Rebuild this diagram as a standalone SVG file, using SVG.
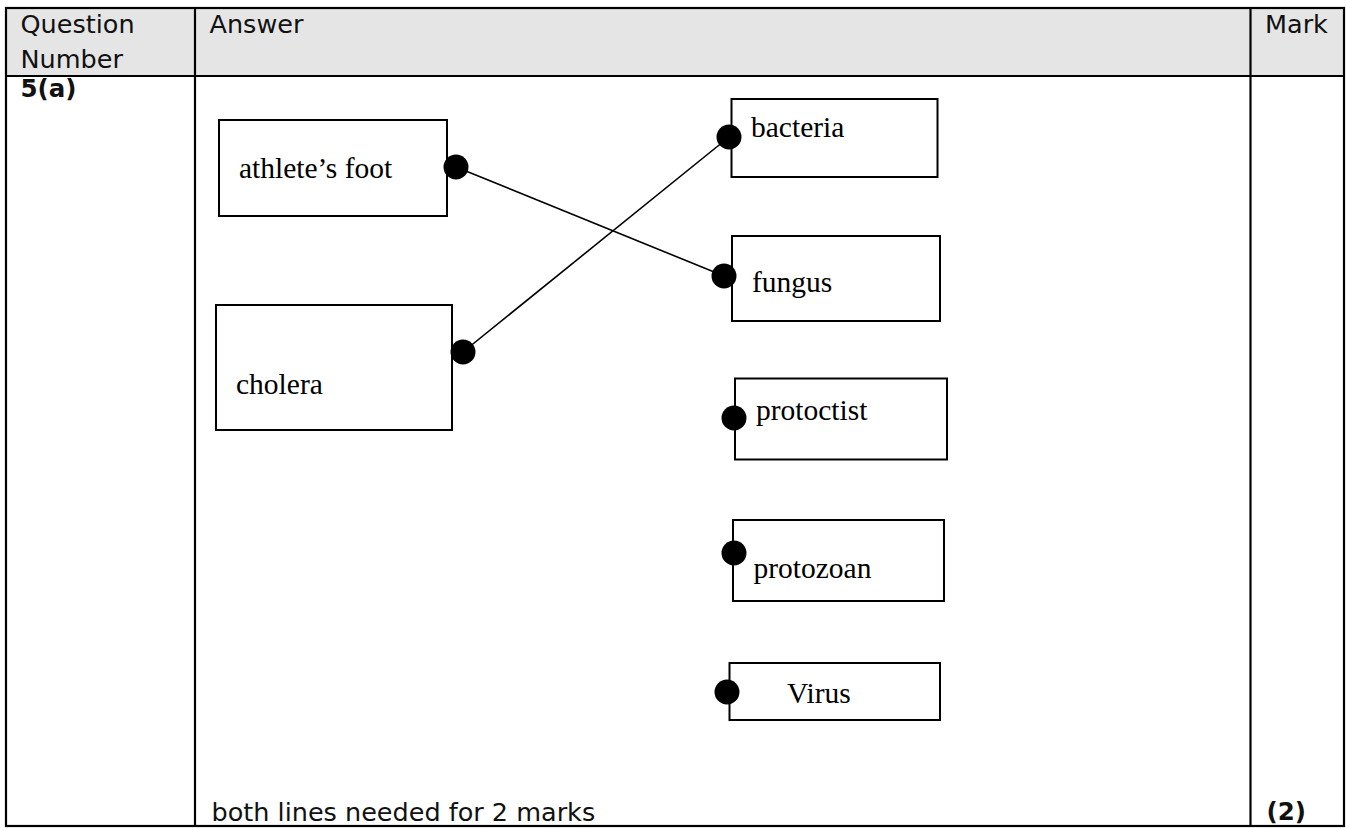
<svg xmlns="http://www.w3.org/2000/svg" width="1346" height="828" viewBox="0 0 1346 828">
<style>
.grid{stroke:#000;stroke-width:2.2;fill:none}
.hdr{fill:#e5e5e5}
.sans{font-family:"DejaVu Sans","Liberation Sans",sans-serif;font-size:25.5px;fill:#111}
.bold{font-weight:bold;font-size:24.5px}
.box{fill:#fff;stroke:#000;stroke-width:2}
.lbl{font-family:"Liberation Serif","Times New Roman",serif;font-size:29.5px;fill:#000}
.dot{fill:#000}
.conn{stroke:#000;stroke-width:1.6;fill:none}
</style>
<rect width="1346" height="828" fill="#fff"/>
<g id="table">
<rect class="hdr" x="6" y="8" width="1338" height="68"/>
<rect class="grid" x="6" y="8" width="1338" height="818"/>
<line class="grid" x1="6" y1="76" x2="1344" y2="76"/>
<line class="grid" x1="195" y1="8" x2="195" y2="826"/>
<line class="grid" x1="1250.5" y1="8" x2="1250.5" y2="826"/>
<text class="sans" x="20.5" y="33">Question</text>
<text class="sans" x="20.5" y="68">Number</text>
<text class="sans" x="209.5" y="33">Answer</text>
<text class="sans" x="1265" y="33">Mark</text>
<text class="sans bold" x="20.5" y="97">5(a)</text>
<text class="sans" x="211.5" y="821">both lines needed for 2 marks</text>
<text class="sans bold" x="1266.5" y="820">(2)</text>
</g>
<g id="connectors">
<line class="conn" x1="456" y1="167" x2="724" y2="276"/>
<line class="conn" x1="463" y1="352" x2="729" y2="137"/>
</g>
<g id="athletes-foot">
<rect class="box" x="219" y="120" width="228" height="96"/>
<text class="lbl" x="239" y="178">athlete’s foot</text>
<circle class="dot" cx="456" cy="167" r="12.5"/>
</g>
<g id="cholera">
<rect class="box" x="216" y="305" width="236" height="125"/>
<text class="lbl" x="236" y="394">cholera</text>
<circle class="dot" cx="463" cy="352" r="12.5"/>
</g>
<g id="bacteria">
<rect class="box" x="731.5" y="99" width="206" height="78"/>
<text class="lbl" x="751" y="137">bacteria</text>
<circle class="dot" cx="729" cy="137" r="12.5"/>
</g>
<g id="fungus">
<rect class="box" x="732" y="236" width="208" height="85"/>
<text class="lbl" x="752" y="292">fungus</text>
<circle class="dot" cx="724" cy="276" r="12.5"/>
</g>
<g id="protoctist">
<rect class="box" x="735" y="378.5" width="212" height="81"/>
<text class="lbl" x="756" y="420">protoctist</text>
<circle class="dot" cx="734" cy="418" r="12.5"/>
</g>
<g id="protozoan">
<rect class="box" x="733" y="520" width="211" height="81"/>
<text class="lbl" x="753.5" y="578">protozoan</text>
<circle class="dot" cx="734" cy="553" r="12.5"/>
</g>
<g id="virus">
<rect class="box" x="729.5" y="663" width="210.5" height="57"/>
<text class="lbl" x="787" y="703">Virus</text>
<circle class="dot" cx="727" cy="692" r="12.5"/>
</g>
</svg>
